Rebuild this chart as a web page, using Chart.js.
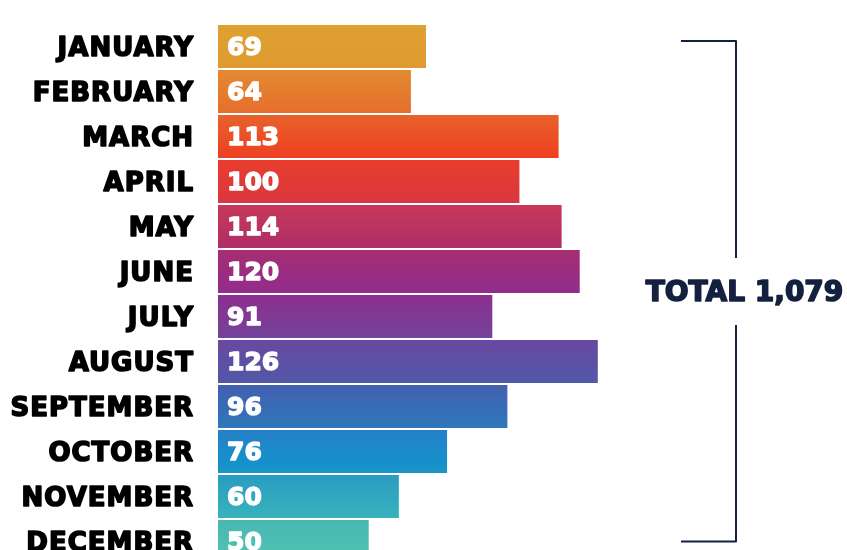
<!DOCTYPE html>
<html>
<head>
<meta charset="utf-8">
<script src="https://cdn.jsdelivr.net/npm/chart.js@4/dist/chart.umd.min.js"></script>
<style>
  html, body { margin: 0; padding: 0; background: #fff; overflow: hidden; }
  #wrap { width: 847px; height: 550px; overflow: hidden; }
</style>
</head>
<body>
<div id="wrap"><canvas id="chart" width="847" height="570"></canvas></div>
<script>
const months = ['JANUARY', 'FEBRUARY', 'MARCH', 'APRIL', 'MAY', 'JUNE', 'JULY', 'AUGUST', 'SEPTEMBER', 'OCTOBER', 'NOVEMBER', 'DECEMBER'];
const counts = [69, 64, 113, 100, 114, 120, 91, 126, 96, 76, 60, 50];

// colour stops of the top-to-bottom gradient (0 = top of plot, 1 = bottom)
const gradStops = [
  [0.00, '#DFA132'], [0.08, '#DF9A30'], [0.085, '#E38A30'], [0.165, '#E66E2C'],
  [0.17, '#E8612A'], [0.245, '#EE4022'], [0.25, '#EA3C2C'], [0.33, '#D83840'],
  [0.335, '#C8395A'], [0.415, '#AE2E66'], [0.42, '#A52E72'], [0.495, '#922C8C'],
  [0.50, '#8E2E8E'], [0.58, '#74439A'], [0.585, '#6A48A0'], [0.665, '#5158A8'],
  [0.67, '#4260B0'], [0.75, '#2E78BC'], [0.755, '#2580C8'], [0.81, '#1690CC'],
  [0.83, '#1B94C8'], [0.835, '#2A9CC2'], [0.915, '#38B2BC'], [0.92, '#48B8B4'],
  [1.00, '#52C4B0']
];

const FONT = "'DejaVu Sans', Lato, sans-serif";
let grad = null;

function barGradient(ctx) {
  const area = ctx.chart.chartArea;
  if (!area) return '#DFA132';
  if (!grad) {
    grad = ctx.chart.ctx.createLinearGradient(0, area.top, 0, area.bottom);
    gradStops.forEach(s => grad.addColorStop(s[0], s[1]));
  }
  return grad;
}

// heavy text: fill plus a stroke of the same colour
function heavyText(c, txt, x, y, color, w) {
  c.lineJoin = 'round';
  c.lineWidth = w;
  c.strokeStyle = color;
  c.fillStyle = color;
  c.strokeText(txt, x, y);
  c.fillText(txt, x, y);
}

// wider tracking for the month labels, value labels inside bars, total bracket
const extras = {
  id: 'extras',
  beforeDraw(chart) {
    chart.ctx.letterSpacing = '1px';
    chart.ctx.lineJoin = 'round';
  },
  beforeDatasetsDraw(chart) {
    chart.ctx.letterSpacing = '0px';
  },
  afterDatasetsDraw(chart) {
    const c = chart.ctx;
    const meta = chart.getDatasetMeta(0);
    c.save();
    c.letterSpacing = '0px';
    c.font = 'bold 25px ' + FONT;
    c.textAlign = 'left';
    c.textBaseline = 'middle';
    meta.data.forEach((bar, i) => {
      heavyText(c, String(counts[i]), bar.base + 9, bar.y + 1.5, '#ffffff', 1.4);
    });

    const total = counts.reduce((a, b) => a + b, 0);
    const ys = chart.scales.y;
    const top = ys.getPixelForValue(0) - 5.5;
    const bottom = ys.getPixelForValue(months.length - 1);
    const bx = 736, lx = 681;
    c.strokeStyle = '#14203F';
    c.lineWidth = 2;
    c.beginPath();
    c.moveTo(lx, top); c.lineTo(bx, top); c.lineTo(bx, 258);
    c.moveTo(bx, 325); c.lineTo(bx, bottom); c.lineTo(lx, bottom);
    c.stroke();
    c.font = 'bold 28px ' + FONT;
    c.textAlign = 'center';
    heavyText(c, 'TOTAL ' + total.toLocaleString('en-US'), 744.5, 294, '#14203F', 1.6);
    c.restore();
  }
};

new Chart(document.getElementById('chart'), {
  type: 'bar',
  data: {
    labels: months,
    datasets: [{
      data: counts,
      backgroundColor: barGradient,
      borderWidth: 0,
      barPercentage: 0.956,
      categoryPercentage: 1
    }]
  },
  options: {
    indexAxis: 'y',
    responsive: false,
    animation: false,
    layout: { padding: { top: 24, bottom: 6, left: 0, right: 207 } },
    plugins: { legend: { display: false }, tooltip: { enabled: false } },
    scales: {
      x: { display: false, min: 0, max: 140 },
      y: {
        grid: { display: false, drawTicks: false },
        border: { display: false },
        afterFit(scale) {
          scale.width = 218;
          scale.paddingTop = 0;
          scale.paddingBottom = 0;
        },
        ticks: {
          color: '#000',
          padding: 24,
          labelOffset: 2.5,
          textStrokeColor: '#000',
          textStrokeWidth: 1.6,
          font: { family: FONT, size: 26, weight: 'bold' }
        }
      }
    }
  },
  plugins: [extras]
});
</script>
</body>
</html>
